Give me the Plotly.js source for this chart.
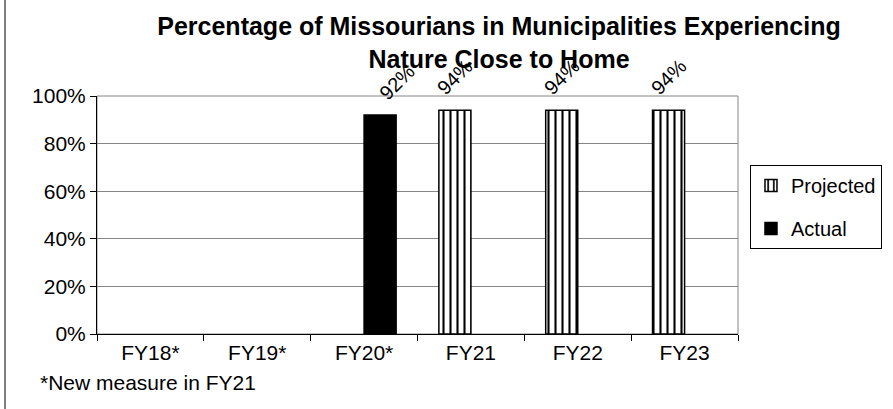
<!DOCTYPE html>
<html>
<head>
<meta charset="utf-8">
<script src="https://cdn.plot.ly/plotly-3.0.1.min.js"></script>
<style>html,body{margin:0;padding:0;background:#fff;}#chart{width:893px;height:409px;}</style>
</head>
<body>
<div id="chart"></div>
<script>
const categories = ["FY18*", "FY19*", "FY20*", "FY21", "FY22", "FY23"];
const projected = [null, null, null, 94, 94, 94];
const actual = [null, null, 92, null, null, null];
const yTicks = [0, 20, 40, 60, 80, 100];
const titleText = "Percentage of Missourians in Municipalities Experiencing<br>Nature Close to Home";
const footnote = "*New measure in FY21";

const FONT = "Arial, 'Liberation Sans', sans-serif";

const traces = [
  {
    type: "bar", name: "Projected", x: categories, y: projected,
    legendgroup: "p",
    marker: {
      color: "#ffffff",
      line: {color: "#000000", width: 1.5},
      pattern: {shape: "|", fgcolor: "#000000", bgcolor: "#ffffff", size: 7, solidity: 0.3}
    },
    hoverinfo: "skip"
  },
  {
    type: "bar", name: "Actual", x: categories, y: actual,
    legendgroup: "a",
    marker: {color: "#000000", line: {color: "#000000", width: 1.5}},
    hoverinfo: "skip"
  }
];

const annotations = [];
function addLabels(vals, xshift) {
  vals.forEach((v, i) => {
    if (v === null) return;
    annotations.push({
      x: categories[i], y: v, xref: "x", yref: "y",
      text: v + "%", showarrow: false, textangle: -45,
      xanchor: "center", yanchor: "middle",
      xshift: xshift, yshift: 33,
      font: {family: FONT, size: 20, color: "#000"}
    });
  });
}
addLabels(projected, -16);
addLabels(actual, 33);

annotations.push({
  xref: "paper", yref: "paper", x: -0.092, y: -0.2017,
  xanchor: "left", yanchor: "middle", showarrow: false,
  text: footnote, font: {family: FONT, size: 21, color: "#000"}
});

const layout = {
  width: 893, height: 409,
  margin: {l: 97, r: 155, t: 96, b: 75, autoexpand: false},
  paper_bgcolor: "#ffffff", plot_bgcolor: "#ffffff",
  font: {family: FONT, size: 21, color: "#000"},
  title: {
    text: titleText,
    font: {family: FONT, size: 25, color: "#000", weight: "bold"},
    x: 0.5588, xref: "container", xanchor: "center",
    y: 0.9144, yref: "container", yanchor: "top"
  },
  barmode: "group", bargap: 0.4, bargroupgap: 0,
  showlegend: true,
  legend: {
    x: 1.0187, y: 0.71, xanchor: "left", yanchor: "top",
    bordercolor: "#000", borderwidth: 1, bgcolor: "#fff",
    font: {family: FONT, size: 20, color: "#000"},
    tracegroupgap: 14, itemwidth: 30, traceorder: "grouped"
  },
  xaxis: {
    type: "category", showline: true, linecolor: "#000", linewidth: 1,
    ticks: "outside", tickson: "boundaries", ticklen: 6, tickcolor: "#000",
    tickfont: {family: FONT, size: 21, color: "#000"},
    showgrid: false, zeroline: false, fixedrange: true
  },
  yaxis: {
    range: [0, 100], tickvals: yTicks, ticktext: yTicks.map(v => v + "%"),
    showline: true, linecolor: "#000", linewidth: 1,
    ticks: "outside", ticklen: 6, tickcolor: "#000",
    tickfont: {family: FONT, size: 21, color: "#000"},
    showgrid: true, gridcolor: "#868686", gridwidth: 1,
    zeroline: false, fixedrange: true
  },
  shapes: [
    {type: "rect", xref: "paper", yref: "paper", x0: 0, x1: 1, y0: 0, y1: 1,
     line: {color: "#868686", width: 1}, layer: "below"},
    {type: "line", xref: "paper", yref: "paper", x0: -0.1435, x1: -0.1435, y0: -0.32, y1: 1.41,
     line: {color: "#000", width: 1}}
  ],
  annotations: annotations
};

Plotly.newPlot("chart", traces, layout, {displayModeBar: false, staticPlot: true});
</script>
</body>
</html>
